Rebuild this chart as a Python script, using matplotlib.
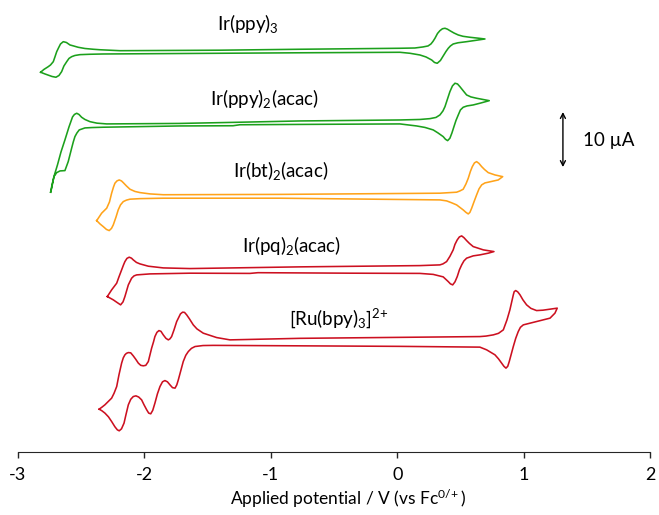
import matplotlib
matplotlib.use('Agg')
import matplotlib.pyplot as plt

plt.rcParams['font.family'] = ['Lato', 'DejaVu Sans']
plt.rcParams['mathtext.default'] = 'regular'

# (potential V vs Fc, current uA incl. stacking offset), one loop per complex
ppy3 = [(-2.818, 69.04), (-2.784, 68.73), (-2.728, 68.27), (-2.697, 68.13), (-2.673, 68.45), (-2.652, 69.15),
        (-2.634, 70.18), (-2.612, 70.96), (-2.594, 71.55), (-2.573, 71.87), (-2.547, 72.09), (-2.507, 72.24),
        (-2.428, 72.31), (-2.325, 72.36), (-1.401, 72.49), (-0.769, 72.58), (0.021, 72.67), (0.100, 72.49),
        (0.179, 72.18), (0.227, 71.82), (0.272, 71.27), (0.294, 70.82), (0.316, 70.67), (0.341, 71.18),
        (0.363, 72.0), (0.385, 72.82), (0.403, 73.4), (0.420, 73.82), (0.442, 74.18), (0.480, 74.4),
        (0.548, 74.6), (0.614, 74.82), (0.693, 75.09), (0.638, 75.24), (0.574, 75.4), (0.519, 75.58),
        (0.482, 75.82), (0.448, 76.18), (0.416, 76.6), (0.397, 76.87), (0.377, 77.04), (0.357, 76.95),
        (0.337, 76.6), (0.318, 76.09), (0.298, 75.22), (0.282, 74.64), (0.266, 74.18), (0.243, 73.82),
        (0.203, 73.64), (0.139, 73.45), (0.021, 73.4), (-0.769, 73.22), (-1.401, 73.05), (-2.191, 72.96),
        (-2.349, 73.13), (-2.402, 73.22), (-2.468, 73.36), (-2.521, 73.58), (-2.562, 73.85), (-2.586, 74.0),
        (-2.614, 74.45), (-2.639, 74.6), (-2.661, 74.18), (-2.677, 73.45), (-2.691, 72.78), (-2.705, 71.82),
        (-2.718, 70.96), (-2.740, 70.36), (-2.758, 70.05), (-2.792, 69.55), (-2.818, 69.04)]

ppy2acac = [(-2.739, 47.22), (-2.731, 47.95), (-2.713, 50.05), (-2.691, 50.78), (-2.665, 51.09), (-2.626, 51.15),
            (-2.600, 52.78), (-2.573, 55.22), (-2.560, 56.36), (-2.547, 57.33), (-2.531, 58.0), (-2.513, 58.55),
            (-2.468, 58.91), (-2.412, 58.98), (-2.323, 59.04), (-1.717, 59.27), (-1.298, 59.31), (-1.243, 59.49),
            (-0.769, 59.55), (0.021, 59.64), (0.153, 59.27), (0.219, 59.0), (0.284, 58.55), (0.322, 58.0),
            (0.363, 57.33), (0.381, 56.85), (0.398, 56.6), (0.416, 57.04), (0.432, 58.0), (0.448, 59.15),
            (0.464, 60.27), (0.482, 61.27), (0.499, 62.18), (0.521, 62.67), (0.551, 62.91), (0.600, 63.09),
            (0.661, 63.45), (0.727, 63.87), (0.677, 64.09), (0.627, 64.31), (0.582, 64.55), (0.548, 64.91),
            (0.519, 65.73), (0.495, 66.42), (0.476, 66.91), (0.456, 67.04), (0.436, 66.55), (0.416, 65.51),
            (0.397, 64.18), (0.377, 62.78), (0.361, 62.0), (0.337, 61.27), (0.306, 60.82), (0.258, 60.6),
            (0.179, 60.45), (0.021, 60.36), (-0.769, 60.18), (-1.322, 59.91), (-1.717, 59.73), (-2.296, 59.64),
            (-2.373, 59.78), (-2.428, 60.05), (-2.468, 60.45), (-2.494, 60.85), (-2.515, 61.36), (-2.533, 61.58),
            (-2.551, 61.36), (-2.566, 60.91), (-2.594, 59.09), (-2.626, 56.73), (-2.657, 54.55), (-2.685, 52.18),
            (-2.709, 50.36), (-2.728, 48.55), (-2.739, 47.22)]

bt2acac = [(-2.375, 42.05), (-2.349, 41.45), (-2.323, 40.96), (-2.298, 40.45), (-2.276, 40.24), (-2.258, 40.64),
           (-2.244, 41.27), (-2.222, 42.73), (-2.205, 44.0), (-2.187, 44.91), (-2.165, 45.51), (-2.140, 45.78),
           (-2.112, 45.95), (-2.033, 46.05), (-1.849, 46.13), (-0.927, 46.13), (0.337, 45.82), (0.390, 45.64),
           (0.428, 45.31), (0.469, 44.91), (0.521, 44.0), (0.543, 43.55), (0.561, 43.27), (0.574, 43.55),
           (0.588, 44.31), (0.606, 45.45), (0.627, 46.73), (0.646, 47.82), (0.667, 48.55), (0.693, 48.91),
           (0.719, 49.04), (0.798, 49.45), (0.833, 50.05), (0.772, 50.36), (0.719, 50.78), (0.689, 51.36),
           (0.667, 51.87), (0.646, 52.45), (0.627, 52.78), (0.610, 52.55), (0.593, 51.87), (0.578, 51.0),
           (0.561, 49.76), (0.543, 48.73), (0.521, 47.76), (0.495, 47.45), (0.469, 47.22), (0.337, 47.04),
           (-0.927, 46.82), (-1.849, 46.76), (-1.954, 46.91), (-2.033, 47.15), (-2.073, 47.36), (-2.112, 47.76),
           (-2.140, 48.36), (-2.165, 48.96), (-2.179, 49.27), (-2.197, 49.45), (-2.215, 49.27), (-2.231, 48.85),
           (-2.242, 48.18), (-2.257, 47.04), (-2.274, 45.45), (-2.296, 44.31), (-2.336, 43.4), (-2.375, 42.05)]

pq2acac = [(-2.291, 28.24), (-2.244, 27.64), (-2.215, 27.18), (-2.186, 26.73), (-2.167, 27.27), (-2.152, 28.24),
           (-2.125, 30.36), (-2.099, 31.58), (-2.080, 32.0), (-2.059, 32.18), (-1.954, 32.36), (-1.638, 32.49),
           (-1.164, 32.45), (-1.101, 32.58), (-0.374, 32.49), (0.179, 32.45), (0.284, 32.27), (0.363, 31.82),
           (0.403, 30.96), (0.420, 30.55), (0.438, 30.36), (0.456, 30.91), (0.474, 31.87), (0.491, 33.09),
           (0.509, 34.0), (0.527, 34.73), (0.548, 35.22), (0.600, 35.64), (0.653, 35.82), (0.719, 36.13),
           (0.764, 36.42), (0.680, 36.73), (0.600, 37.33), (0.570, 37.91), (0.548, 38.42), (0.527, 38.95),
           (0.509, 39.27), (0.491, 39.09), (0.474, 38.55), (0.456, 37.73), (0.442, 36.73), (0.416, 35.55),
           (0.390, 34.6), (0.361, 34.18), (0.337, 34.0), (0.179, 33.87), (-0.769, 33.64), (-1.638, 33.33),
           (-1.849, 33.45), (-1.967, 33.76), (-2.033, 34.18), (-2.061, 34.45), (-2.086, 34.91), (-2.100, 35.22),
           (-2.118, 35.4), (-2.136, 35.18), (-2.152, 34.6), (-2.163, 34.0), (-2.178, 33.09), (-2.199, 31.82),
           (-2.217, 30.67), (-2.257, 29.45), (-2.291, 28.24)]

rubpy = [(-2.355, 7.76), (-2.333, 7.45), (-2.310, 7.04), (-2.282, 6.36), (-2.257, 5.51), (-2.231, 4.55),
         (-2.212, 4.0), (-2.197, 3.82), (-2.179, 4.18), (-2.159, 5.22), (-2.144, 6.73), (-2.125, 8.55),
         (-2.106, 9.55), (-2.086, 10.05), (-2.065, 10.18), (-2.043, 9.96), (-2.020, 9.45), (-2.001, 8.55),
         (-1.980, 7.64), (-1.964, 7.04), (-1.948, 6.91), (-1.932, 7.55), (-1.915, 8.85), (-1.895, 10.55),
         (-1.875, 11.87), (-1.855, 12.73), (-1.836, 12.96), (-1.816, 12.73), (-1.796, 12.18), (-1.776, 11.67),
         (-1.756, 11.58), (-1.742, 12.18), (-1.730, 13.09), (-1.709, 14.91), (-1.691, 16.42), (-1.671, 17.55),
         (-1.651, 18.24), (-1.626, 18.82), (-1.598, 19.15), (-1.535, 19.33), (-1.454, 19.36), (-0.769, 19.27),
         (0.021, 19.18), (0.653, 19.04), (0.706, 18.55), (0.740, 18.09), (0.772, 17.64), (0.800, 16.91),
         (0.825, 16.13), (0.843, 15.55), (0.859, 15.22), (0.873, 15.55), (0.885, 16.42), (0.901, 17.82),
         (0.917, 19.15), (0.936, 20.64), (0.956, 21.87), (0.973, 22.64), (0.996, 23.09), (1.049, 23.4),
         (1.101, 23.69), (1.151, 24.0), (1.207, 24.31), (1.246, 25.22), (1.264, 26.13),
         (1.207, 25.95), (1.151, 25.76), (1.101, 25.69), (1.056, 26.09), (1.022, 26.73), (0.993, 27.64),
         (0.970, 28.55), (0.952, 29.09), (0.936, 29.33), (0.924, 29.13), (0.917, 28.55), (0.904, 27.27),
         (0.890, 25.82), (0.867, 24.0), (0.838, 22.18), (0.800, 21.55), (0.759, 21.27), (0.701, 21.05),
         (0.653, 20.96), (0.021, 20.82), (-0.769, 20.64), (-1.322, 20.36), (-1.427, 20.78), (-1.533, 21.58),
         (-1.583, 22.36), (-1.612, 23.09), (-1.642, 24.18), (-1.664, 24.91), (-1.681, 25.36), (-1.696, 25.4),
         (-1.713, 25.09), (-1.729, 24.36), (-1.743, 23.69), (-1.764, 22.18), (-1.783, 20.96), (-1.796, 20.55),
         (-1.809, 20.36), (-1.828, 20.64), (-1.849, 21.27), (-1.867, 21.91), (-1.883, 22.05), (-1.899, 21.73),
         (-1.915, 20.96), (-1.926, 20.0), (-1.941, 18.85), (-1.954, 17.64), (-1.967, 16.42), (-1.987, 15.73),
         (-2.007, 15.64), (-2.027, 15.73), (-2.046, 16.13), (-2.066, 16.82), (-2.086, 17.45), (-2.106, 18.0),
         (-2.125, 18.05), (-2.140, 17.91), (-2.152, 17.64), (-2.165, 17.09), (-2.178, 16.13), (-2.199, 14.0),
         (-2.217, 11.87), (-2.238, 10.64), (-2.257, 9.76), (-2.286, 9.09), (-2.310, 8.55), (-2.333, 8.13),
         (-2.355, 7.76)]

names = ['Ir(ppy)$_3$', 'Ir(ppy)$_2$(acac)', 'Ir(bt)$_2$(acac)', 'Ir(pq)$_2$(acac)', '[Ru(bpy)$_3$]$^{2\\!+}$']
label_E = [-1.180, -1.053, -0.919, -0.834, -0.457]
label_I = [76.8, 63.0, 50.05, 36.42, 23.09]

green = '#1ca01c'
orange = '#ffa31a'
red = '#cc1020'
curves = [(ppy3, green), (ppy2acac, green), (bt2acac, orange), (pq2acac, red), (rubpy, red)]

fig = plt.figure(figsize=(6.59, 5.15), dpi=100)
ax = fig.add_axes([0.0267, 0.1227, 0.9602, 0.8773])

for pts, c in curves:
    E, I = zip(*pts)
    ax.plot(E, I, color=c, lw=1.15, solid_joinstyle='round')

for n, x, y in zip(names, label_E, label_I):
    ax.text(x, y, n, ha='center', va='baseline', fontsize=13.5, color='black')

# 10 uA scale bar
ax.annotate('', xy=(1.309, 51.8), xytext=(1.309, 61.8),
            arrowprops=dict(arrowstyle='<->,head_length=0.35,head_width=0.18', color='black', lw=1,
                            shrinkA=0, shrinkB=0))
ax.text(1.467, 55.7, '10 µA', ha='left', va='baseline', fontsize=13.5)

ax.set_xlim(-3, 2)
ax.set_ylim(0, 82.18)
ax.set_xticks([-3, -2, -1, 0, 1, 2])
ax.set_xticklabels(['-3', '-2', '-1', '0', '1', '2'])
ax.set_yticks([])
for s in ['left', 'right', 'top']:
    ax.spines[s].set_visible(False)
ax.spines['bottom'].set_color('#262626')
ax.tick_params(axis='x', direction='out', length=4, width=1, color='#262626', labelsize=13, pad=7)

ax.set_xlabel('Applied potential / V (vs Fc$^{0/\\!+}$)', fontsize=12.5)
ax.xaxis.set_label_coords(0.523, -0.117)
ax.xaxis.label.set_verticalalignment('baseline')

fig.savefig('out.png', dpi=100)
